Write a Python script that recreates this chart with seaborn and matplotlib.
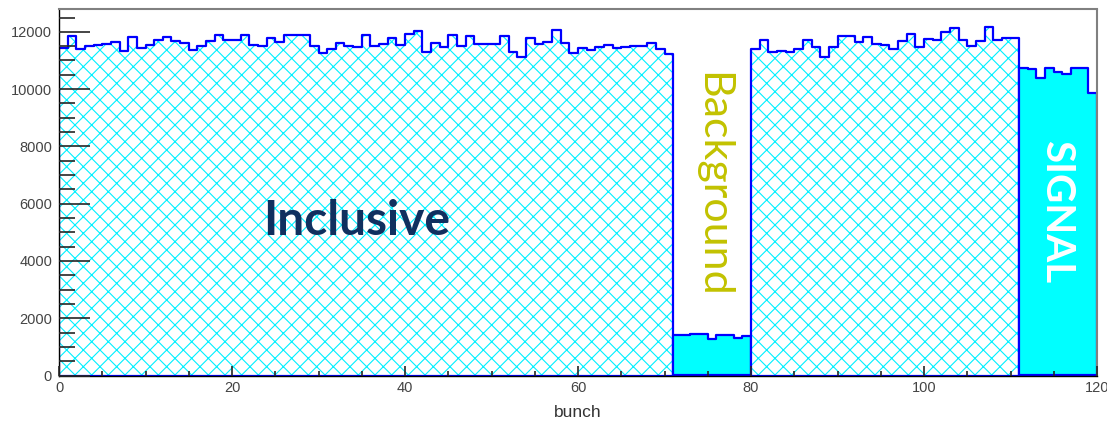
import numpy as np
import pandas as pd
import seaborn as sns
import matplotlib.pyplot as plt
from matplotlib.ticker import MultipleLocator

# entries per bunch (bin width 1)
inclusive_1 = [11434, 11865, 11410, 11490, 11525, 11585, 11630, 11340, 11805, 11434,
               11550, 11725, 11805, 11665, 11610, 11350, 11515, 11665, 11900, 11700,
               11700, 11880, 11550, 11490, 11780, 11630, 11880, 11880, 11880, 11490,
               11260, 11400, 11610, 11515, 11460, 11900, 11515, 11575, 11780, 11525,
               11935, 12015, 11280, 11610, 11470, 11880, 11490, 11865, 11585, 11585,
               11585, 11865, 11280, 11120, 11780, 11585, 11630, 12075, 11610, 11260,
               11435, 11350, 11470, 11550, 11450, 11460, 11515, 11490, 11610, 11400,
               11235]
background = [1423, 1423, 1458, 1440, 1260, 1423, 1423, 1318, 1365]
inclusive_2 = [11400, 11725, 11280, 11315, 11280, 11400, 11725, 11470, 11110, 11470,
               11865, 11865, 11630, 11805, 11585, 11540, 11410, 11665, 11920, 11460,
               11750, 11715, 11980, 12130, 11725, 11515, 11665, 12170, 11715, 11780,
               11780]
signal = [10735, 10700, 10405, 10735, 10585, 10540, 10735, 10735, 9880]

parts = [("inclusive", inclusive_1), ("background", background),
         ("inclusive", inclusive_2), ("signal", signal)]

rows = []
start = 0
for i, (name, vals) in enumerate(parts):
    for j, v in enumerate(vals):
        rows.append({"bunch": start + j + 0.5, "entries": v, "part": i, "kind": name})
    start += len(vals)
df = pd.DataFrame(rows)

sns.set_style("ticks")
plt.rcParams["font.family"] = ["Liberation Sans", "DejaVu Sans"]
plt.rcParams["hatch.linewidth"] = 0.8

fig = plt.figure(figsize=(11.07, 4.23), dpi=100)
ax = fig.add_axes([59 / 1107, 1 - 375.5 / 423, 1038 / 1107, 366 / 423])

for part, sub in df.groupby("part"):
    lo = int(sub["bunch"].min())
    hi = int(sub["bunch"].max()) + 1
    hkw = dict(data=sub, x="bunch", weights="entries", bins=hi - lo, binrange=(lo, hi),
               element="step", fill=True, alpha=1, ax=ax)
    if sub["kind"].iloc[0] == "inclusive":
        # cyan cross hatching, then blue outline on top
        sns.histplot(**hkw, color="#00ffff", facecolor="white", edgecolor="#00f0ff",
                     hatch="xx", linewidth=0)
        sns.histplot(**hkw, color="#0000ff", facecolor="none", edgecolor="#0000ff",
                     linewidth=1.6)
    else:
        sns.histplot(**hkw, color="#00ffff", facecolor="#00ffff", edgecolor="#0000ff",
                     linewidth=1.6)

ax.set_xlim(0, 120)
ax.set_ylim(0, 12780)
ax.set_axisbelow(False)
ax.xaxis.set_major_locator(MultipleLocator(20))
ax.xaxis.set_minor_locator(MultipleLocator(5))
ax.yaxis.set_major_locator(MultipleLocator(2000))
ax.yaxis.set_minor_locator(MultipleLocator(500))
ax.tick_params(axis="y", which="major", direction="in", length=22.5, width=1.2,
               labelsize=10.5, labelcolor="#444444", pad=5)
ax.tick_params(axis="y", which="minor", direction="in", length=11.5, width=1.2)
ax.tick_params(axis="x", which="major", direction="in", length=7.5, width=1.2,
               labelsize=10.5, labelcolor="#444444", pad=4)
ax.tick_params(axis="x", which="minor", direction="in", length=3.8, width=1.2)

for side in ["top", "right"]:
    ax.spines[side].set_color("#808080")
    ax.spines[side].set_linewidth(1.5)
for side in ["left", "bottom"]:
    ax.spines[side].set_color("black")
    ax.spines[side].set_linewidth(1)

ax.set_ylabel("")
ax.set_xlabel("bunch", fontsize=12.5, color="#333333", labelpad=7)

ax.text(0.287, 0.422, "Inclusive", transform=ax.transAxes, ha="center", va="center",
        fontsize=34.5, fontweight="bold", color="#10305f", family=["Lato", "DejaVu Sans"])
ax.text(0.629, 0.52, "Background", transform=ax.transAxes, ha="center", va="center",
        rotation=270, fontsize=31, color="#c2c200", family=["Lato", "DejaVu Sans"])
ax.text(0.961, 0.447, "SIGNAL", transform=ax.transAxes, ha="center", va="center",
        rotation=270, fontsize=29, fontweight="bold", color="white",
        family=["Lato", "DejaVu Sans"])

fig.savefig("out.png", dpi=100)
